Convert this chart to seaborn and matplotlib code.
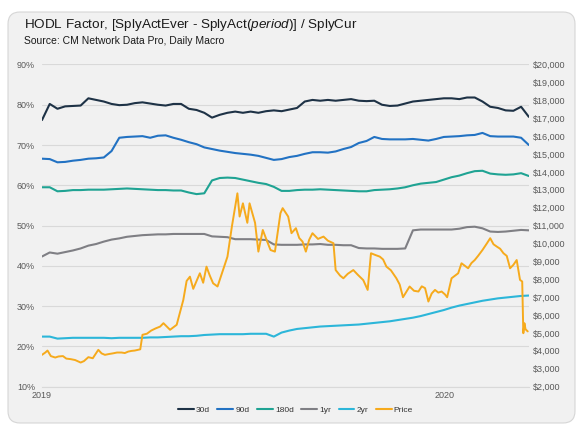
import numpy as np
import pandas as pd
import matplotlib
matplotlib.use("Agg")
import matplotlib.pyplot as plt
import matplotlib.ticker as mticker
import matplotlib.dates as mdates
from matplotlib.patches import FancyBboxPatch
from matplotlib.lines import Line2D
import seaborn as sns

# weekly readings of the HODL factor series (percent)
weeks = pd.date_range("2019-01-01", periods=64, freq="7D")

hodl_30d = [76.2, 80.2, 79.0, 79.6, 79.7, 79.8, 81.6, 81.2, 80.8, 80.2,
            79.9, 80.0, 80.4, 80.6, 80.3, 80.0, 79.8, 80.2, 80.2, 79.0,
            78.7, 78.0, 76.8, 77.5, 78.0, 78.3, 78.0, 78.3, 78.0, 78.4,
            78.6, 78.4, 78.8, 79.2, 80.8, 81.2, 81.0, 81.2, 81.0, 81.2,
            81.4, 81.0, 80.9, 81.0, 80.0, 79.7, 79.8, 80.3, 80.8, 81.0,
            81.2, 81.4, 81.6, 81.6, 81.4, 81.8, 81.8, 80.8, 79.5, 79.2,
            78.6, 78.5, 79.5, 77.0]
hodl_90d = [66.6, 66.5, 65.7, 65.8, 66.1, 66.3, 66.6, 66.7, 66.9, 68.5,
            71.8, 72.0, 72.1, 72.2, 71.8, 72.3, 72.4, 71.8, 71.3, 70.7,
            70.2, 69.4, 69.0, 68.6, 68.3, 68.0, 67.8, 67.6, 67.3, 66.8,
            66.3, 66.5, 67.0, 67.3, 67.8, 68.2, 68.2, 68.1, 68.4, 69.0,
            69.5, 70.5, 71.0, 72.0, 71.5, 71.4, 71.4, 71.4, 71.5, 71.3,
            71.1, 71.5, 72.0, 72.1, 72.2, 72.4, 72.5, 73.0, 72.2, 72.1,
            72.1, 72.1, 71.8, 70.0]
hodl_180d = [59.5, 59.5, 58.5, 58.6, 58.8, 58.8, 58.9, 58.9, 58.9, 59.0,
             59.1, 59.2, 59.1, 59.0, 58.9, 58.8, 58.8, 58.7, 58.7, 58.2,
             57.8, 58.0, 61.2, 61.8, 61.9, 61.8, 61.4, 61.0, 60.6, 60.3,
             59.6, 58.6, 58.6, 58.8, 58.9, 58.9, 59.0, 58.9, 58.8, 58.7,
             58.6, 58.5, 58.5, 58.8, 58.9, 59.0, 59.2, 59.5, 60.0, 60.4,
             60.6, 60.8, 61.4, 62.0, 62.4, 63.0, 63.5, 63.6, 62.9, 62.7,
             62.6, 62.7, 63.0, 62.3]
hodl_1yr = [42.3, 43.3, 43.0, 43.4, 43.8, 44.3, 45.0, 45.4, 46.0, 46.5,
            46.8, 47.2, 47.4, 47.6, 47.7, 47.8, 47.8, 47.9, 47.9, 47.9,
            47.9, 47.9, 47.3, 47.2, 47.1, 46.6, 46.6, 46.6, 46.5, 46.4,
            45.3, 45.2, 45.2, 45.2, 45.3, 45.3, 45.4, 45.2, 45.2, 45.1,
            45.1, 44.4, 44.3, 44.3, 44.2, 44.2, 44.2, 44.3, 48.8, 49.0,
            49.0, 49.0, 49.0, 49.0, 49.2, 49.6, 49.7, 49.3, 48.5, 48.4,
            48.5, 48.7, 48.9, 48.8]
hodl_2yr = [22.4, 22.4, 21.9, 22.0, 22.1, 22.1, 22.1, 22.1, 22.1, 22.0,
            22.1, 22.1, 22.1, 22.1, 22.2, 22.2, 22.3, 22.4, 22.5, 22.5,
            22.6, 22.8, 22.9, 23.0, 23.0, 23.0, 23.0, 23.1, 23.1, 23.1,
            22.4, 23.4, 23.9, 24.3, 24.5, 24.7, 24.9, 25.0, 25.1, 25.2,
            25.3, 25.4, 25.6, 25.8, 26.0, 26.2, 26.5, 26.8, 27.1, 27.5,
            28.0, 28.5, 29.0, 29.6, 30.1, 30.5, 30.9, 31.3, 31.6, 31.9,
            32.1, 32.3, 32.5, 32.6]

# price readings (USD), day offsets from 2019-01-01
price_day = [0, 3, 5, 8, 12, 15, 19, 22, 26, 30, 35, 38, 42, 46, 51, 54, 57,
             61, 64, 68, 72, 75, 78, 81, 84, 89, 91, 95, 99, 103,
             107, 110, 116, 122, 128, 131, 134, 137, 140, 143, 146, 149, 152,
             155, 159, 163, 168,
             172, 177, 179, 182, 186, 188, 193, 196, 200, 204, 207, 211, 216,
             218, 223, 226, 230, 233, 236, 239, 242, 245, 250, 255, 259, 264,
             266, 270, 273, 277, 282, 286, 291, 295,
             298, 302, 306, 309, 312, 316, 321, 324, 327, 333, 337, 341, 344,
             347, 350, 353, 356, 359, 362, 365, 367, 371,
             377, 380, 386, 389, 392, 395, 399, 403, 406, 409, 412, 415, 418,
             421, 424, 427, 430, 433, 435, 436, 437, 438, 440]
price_usd = [3770, 3900, 4010, 3700, 3620, 3680, 3700, 3560, 3530, 3480, 3340,
             3420, 3640, 3580, 4050, 3850, 3770, 3820, 3850, 3900, 3900, 3870,
             3950, 3990, 4010, 4080, 4890, 4950, 5130, 5250,
             5350, 5540, 5170, 5450, 6840, 7900, 8140, 7460, 7900, 8330, 7800,
             8700, 8200, 7770, 7590, 8330, 9260,
             10940, 12800, 11500, 12240, 11150, 12240, 11150, 9540, 10750,
             10100, 9630, 9540, 11690,
             11970, 11500, 10570, 10850, 10300, 10100, 9540, 10200, 10570,
             10250, 10380, 10150, 10010,
             8510, 8200, 8050, 8300, 8510, 8250, 7950, 7400,
             9450, 9350, 9260, 9100, 8700, 8500, 8050, 7700, 6990, 7590, 7350,
             7310, 7600, 7500, 6750, 7200, 7400, 7250, 7310, 7150, 6990, 8050,
             8330, 8890, 8610, 8900, 9070, 9300, 9630, 10000, 10290, 9950,
             9820, 9700, 9450, 9300, 8610, 8800, 9070, 7960, 7870, 4980, 5540,
             5200, 5080]

series_names = ["30d", "90d", "180d", "1yr", "2yr"]
colors = {"30d": "#1e3246", "90d": "#2272c3", "180d": "#1fa393",
          "1yr": "#7f7f84", "2yr": "#2cb6d9", "Price": "#f6aa1c"}

df = pd.DataFrame({"date": weeks, "30d": hodl_30d, "90d": hodl_90d,
                   "180d": hodl_180d, "1yr": hodl_1yr, "2yr": hodl_2yr})
long = df.melt(id_vars="date", var_name="series", value_name="pct")
price = pd.DataFrame({"date": pd.Timestamp("2019-01-01") + pd.to_timedelta(price_day, unit="D"),
                      "usd": price_usd})

sns.set_style("white")
plt.rcParams["font.family"] = ["Liberation Sans", "DejaVu Sans"]
plt.rcParams["mathtext.fontset"] = "custom"
plt.rcParams["mathtext.rm"] = "Liberation Sans"
plt.rcParams["mathtext.it"] = "Liberation Sans:italic"

bg = "#f1f1f1"
fig = plt.figure(figsize=(5.85, 4.32), dpi=100)
fig.patch.set_facecolor("white")
card = FancyBboxPatch((0.08, 0.09), 5.67, 4.11, boxstyle="round,pad=0,rounding_size=0.12",
                      transform=fig.dpi_scale_trans, facecolor=bg, edgecolor="#d6d6d6",
                      linewidth=0.8, zorder=-10)
fig.patches.append(card)

ax = fig.add_axes([0.0718, 0.1053, 0.8322, 0.7454])
ax.set_facecolor("none")
sns.lineplot(data=long, x="date", y="pct", hue="series", hue_order=series_names,
             palette=colors, linewidth=1.5, ax=ax, legend=False)
ax.set_ylim(10, 90)
ax.set_xlim(pd.Timestamp("2019-01-01"), pd.Timestamp("2020-03-17"))
ax.yaxis.set_major_locator(mticker.MultipleLocator(10))
ax.yaxis.set_major_formatter(mticker.FuncFormatter(lambda v, p: f"{v:.0f}%"))
ax.grid(axis="y", color="#d9d9d9", linewidth=0.8)
ax.xaxis.set_major_locator(mdates.YearLocator())
ax.xaxis.set_major_formatter(mdates.DateFormatter("%Y"))
ax.tick_params(axis="both", labelsize=6.5, labelcolor="#595959", length=0)
ax.tick_params(axis="y", pad=5)
ax.tick_params(axis="x", pad=3)
for s in ["top", "right", "left"]:
    ax.spines[s].set_visible(False)
ax.spines["bottom"].set_color("#d9d9d9")
ax.set_xlabel("")
ax.set_ylabel("")

ax2 = ax.twinx()
sns.lineplot(data=price, x="date", y="usd", color=colors["Price"], linewidth=1.4, ax=ax2)
ax2.set_ylim(2000, 20000)
ax2.yaxis.set_major_locator(mticker.MultipleLocator(1000))
ax2.yaxis.set_major_formatter(mticker.FuncFormatter(lambda v, p: f"${v:,.0f}"))
ax2.tick_params(axis="y", labelsize=6.5, labelcolor="#595959", length=0, pad=3)
for s in ax2.spines.values():
    s.set_visible(False)
ax2.set_ylabel("")
ax2.set_xlim(pd.Timestamp("2019-01-01"), pd.Timestamp("2020-03-17"))

fig.text(0.041, 0.935, r"HODL Factor, [SplyActEver - SplyAct$\mathit{(period)}$] / SplyCur",
         fontsize=9.7, color="#1a1a1a", va="baseline")
fig.text(0.041, 0.899, "Source: CM Network Data Pro, Daily Macro",
         fontsize=7.5, color="#1a1a1a", va="baseline")

handles = [Line2D([], [], color=colors[n], linewidth=1.5) for n in series_names + ["Price"]]
fig.legend(handles, series_names + ["Price"], loc="center", ncol=6,
           bbox_to_anchor=(0.505, 0.05), frameon=False, fontsize=6,
           handlelength=1.9, handletextpad=0.25, columnspacing=0.9,
           labelcolor="#333333")

fig.savefig("out.png", dpi=100, facecolor="white")
